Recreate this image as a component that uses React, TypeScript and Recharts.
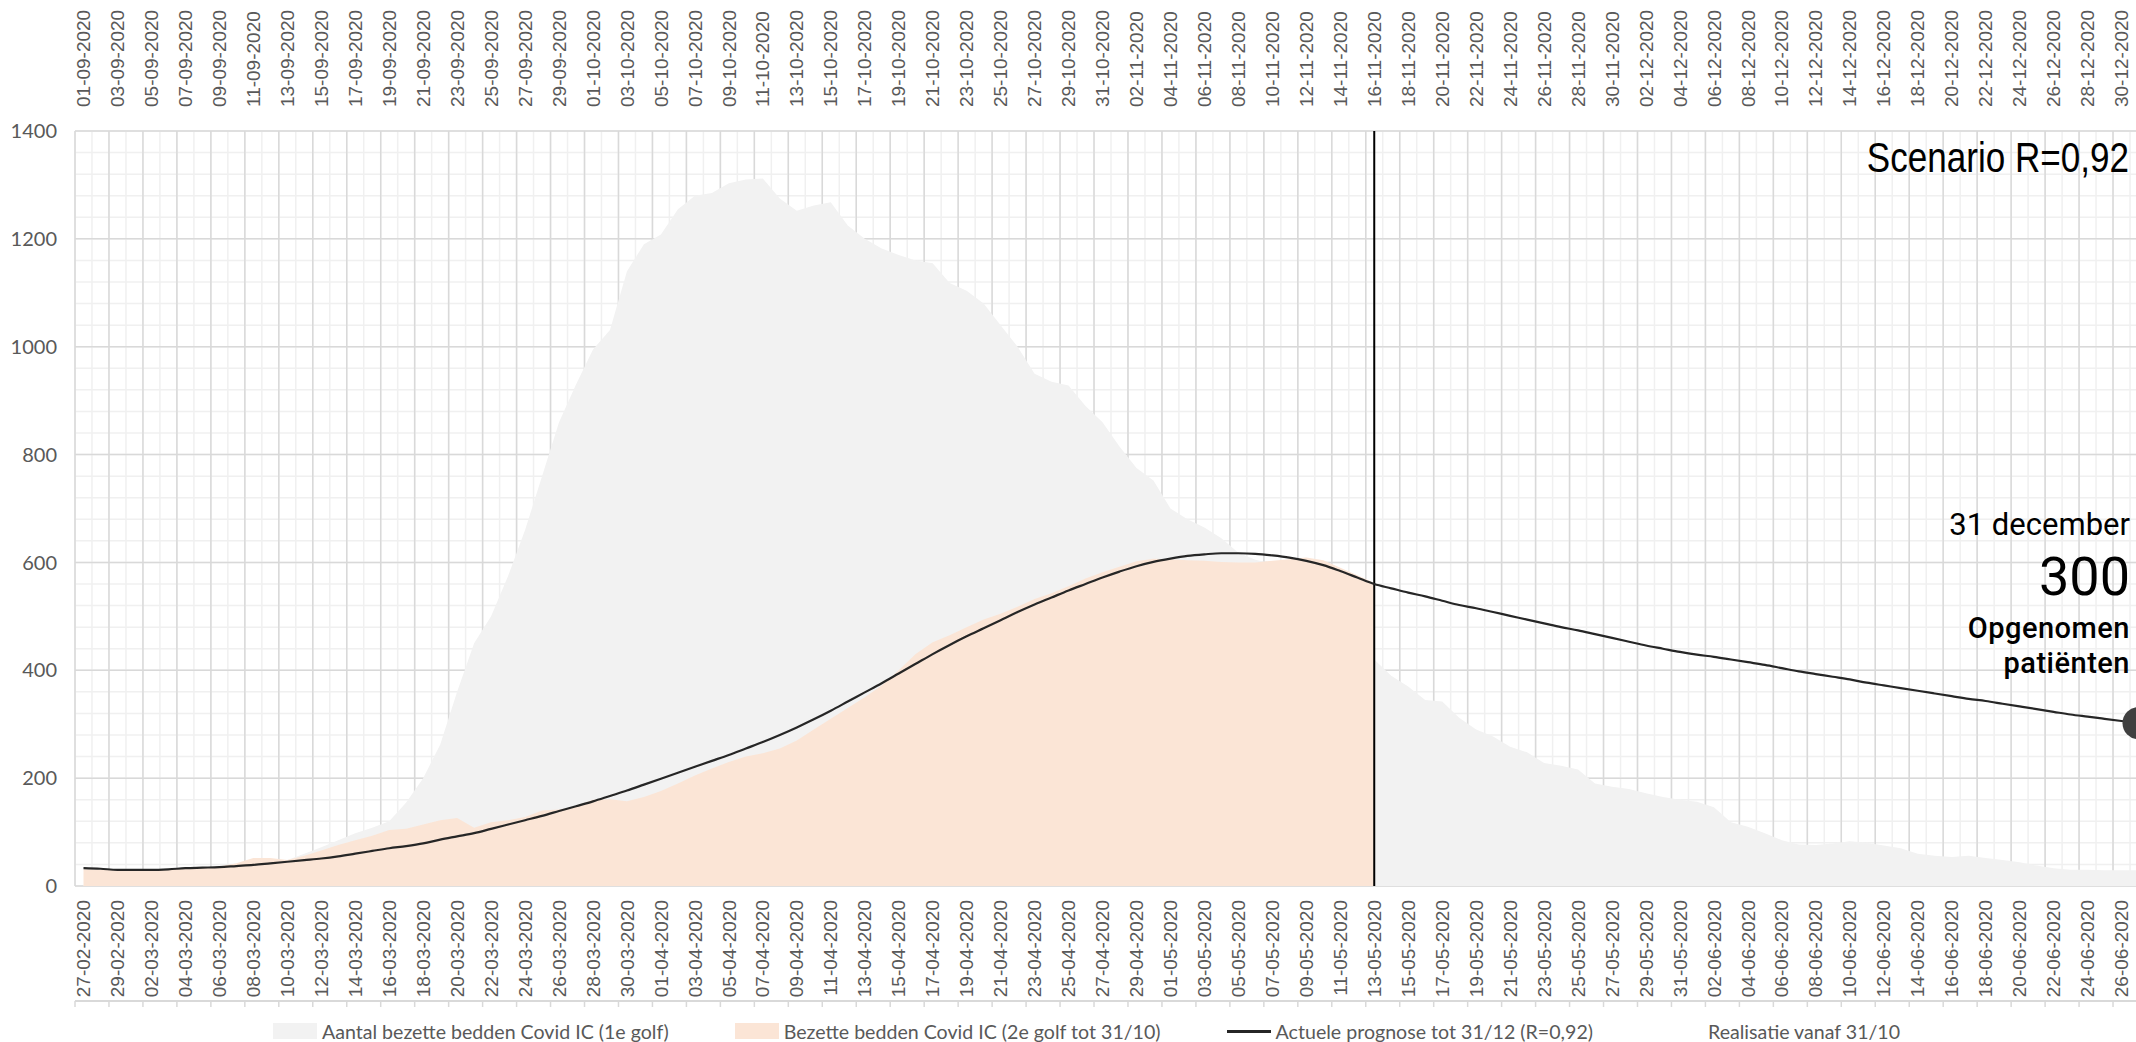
import React from 'react';
import {
  ComposedChart,
  Area,
  Line,
  XAxis,
  YAxis,
  CartesianGrid,
  ReferenceLine,
  Legend,
} from 'recharts';

// labels every 2 days, 1e golf (bottom) and 2e golf (top)
const bottomDates = [
  '27-02-2020', '29-02-2020', '02-03-2020', '04-03-2020', '06-03-2020', '08-03-2020', '10-03-2020',
  '12-03-2020', '14-03-2020', '16-03-2020', '18-03-2020', '20-03-2020', '22-03-2020', '24-03-2020',
  '26-03-2020', '28-03-2020', '30-03-2020', '01-04-2020', '03-04-2020', '05-04-2020', '07-04-2020',
  '09-04-2020', '11-04-2020', '13-04-2020', '15-04-2020', '17-04-2020', '19-04-2020', '21-04-2020',
  '23-04-2020', '25-04-2020', '27-04-2020', '29-04-2020', '01-05-2020', '03-05-2020', '05-05-2020',
  '07-05-2020', '09-05-2020', '11-05-2020', '13-05-2020', '15-05-2020', '17-05-2020', '19-05-2020',
  '21-05-2020', '23-05-2020', '25-05-2020', '27-05-2020', '29-05-2020', '31-05-2020', '02-06-2020',
  '04-06-2020', '06-06-2020', '08-06-2020', '10-06-2020', '12-06-2020', '14-06-2020', '16-06-2020',
  '18-06-2020', '20-06-2020', '22-06-2020', '24-06-2020', '26-06-2020',
];

const topDates = [
  '01-09-2020', '03-09-2020', '05-09-2020', '07-09-2020', '09-09-2020', '11-09-2020', '13-09-2020',
  '15-09-2020', '17-09-2020', '19-09-2020', '21-09-2020', '23-09-2020', '25-09-2020', '27-09-2020',
  '29-09-2020', '01-10-2020', '03-10-2020', '05-10-2020', '07-10-2020', '09-10-2020', '11-10-2020',
  '13-10-2020', '15-10-2020', '17-10-2020', '19-10-2020', '21-10-2020', '23-10-2020', '25-10-2020',
  '27-10-2020', '29-10-2020', '31-10-2020', '02-11-2020', '04-11-2020', '06-11-2020', '08-11-2020',
  '10-11-2020', '12-11-2020', '14-11-2020', '16-11-2020', '18-11-2020', '20-11-2020', '22-11-2020',
  '24-11-2020', '26-11-2020', '28-11-2020', '30-11-2020', '02-12-2020', '04-12-2020', '06-12-2020',
  '08-12-2020', '10-12-2020', '12-12-2020', '14-12-2020', '16-12-2020', '18-12-2020', '20-12-2020',
  '22-12-2020', '24-12-2020', '26-12-2020', '28-12-2020', '30-12-2020',
];

// daily values (one per day)
const golf1 = [
  2, 3, 4, 5, 6, 8, 10, 14, 18, 24, 30, 38, 48, 60,
  72, 85, 98, 108, 120, 155, 200,
  262, 360, 450, 500, 575, 660, 760, 860, 930, 995,
  1031, 1140, 1190, 1208, 1255, 1280, 1285, 1303, 1310, 1312,
  1275, 1252, 1262, 1268, 1225, 1200, 1182, 1170, 1160, 1155,
  1118, 1104, 1080, 1040, 1000, 950, 935, 928, 890, 860,
  815, 775, 752, 700, 680, 665, 645, 618, 605, 598,
  580, 560, 530, 490, 455, 420, 390, 370, 345, 342,
  312, 290, 277, 258, 248, 228, 223, 216, 190, 184,
  180, 172, 165, 160, 156, 146, 118, 110, 98, 85,
  77, 76, 79, 83, 80, 75, 70, 60, 56, 54,
  56, 52, 48, 44, 38, 33, 30, 30, 29, 29, 29,
];

const golf2 = [
  31, 30, 29, 29, 30, 31, 32, 34, 36, 42,
  52, 52, 48, 56, 66, 76, 85, 93, 104, 106,
  114, 122, 126, 108, 118, 122, 128, 140, 142, 148,
  160, 161, 157, 165, 176, 190, 205, 218, 230, 240,
  246, 255, 270, 290, 310, 330, 350, 372, 400, 430,
  452, 465, 480, 494, 505, 518, 532, 543, 556, 570,
  582, 592, 602, 607, 606, 604, 603, 601, 600, 600,
  603, 606, 609, 604, 590, 576, 562,
];

const prognose = [
  33, 32, 30, 30, 30, 31, 33, 34, 35, 37,
  39, 42, 45, 48, 51, 55, 60, 65, 70, 74,
  79, 86, 92, 98, 106, 114, 122, 130, 139, 148,
  157, 167, 177, 188, 199, 210, 221, 232, 243, 255,
  267, 280, 294, 309, 325, 342, 359, 376, 394, 412,
  430, 447, 463, 478, 493, 508, 522, 535, 548, 560,
  572, 583, 593, 601, 607, 612, 615, 617, 617, 616,
  613, 609, 603, 595, 584, 572, 560, 552, 544, 537,
  529, 521, 515, 508, 501, 494, 487, 480, 474, 467,
  460, 453, 446, 440, 434, 429, 425, 420, 415, 410,
  404, 398, 393, 388, 383, 377, 372, 367, 362, 357,
  352, 347, 343, 338, 333, 328, 323, 318, 314, 310, 306, 302,
];

const yTicks = [0, 200, 400, 600, 800, 1000, 1200, 1400];
const vandaag = 76; // 13-05 / 16-11

const legendItems = [
  { label: 'Aantal bezette bedden Covid IC (1e golf)', kind: 'area', color: '#f2f2f2' },
  { label: 'Bezette bedden Covid IC (2e golf tot 31/10)', kind: 'area', color: '#fbe5d6' },
  { label: 'Actuele prognose tot 31/12 (R=0,92)', kind: 'line', color: '#262626' },
  { label: 'Realisatie vanaf 31/10', kind: 'none', color: 'transparent' },
];

const data = prognose.map((p, i) => ({
  i,
  golf1: golf1[i],
  golf2: i < golf2.length ? golf2[i] : null,
  prognose: p,
}));

const last = prognose.length - 1;
const xDomain = [-0.5, last + 0.5];
const labelTicks = bottomDates.map((_, k) => k * 2);
// grid sits between the days, as in the Excel original
const minorTicks = Array.from({ length: prognose.length + 1 }, (_, k) => k - 0.5);
const majorTicks = minorTicks.filter((_, k) => k % 2 === 0);
const yMinorTicks = Array.from({ length: 36 }, (_, k) => k * 40);

const TEXT = '#595959';
const DATE_FONT = '"Liberation Sans", Arial, sans-serif';

const BottomTick = (props: any) => {
  const { x, y, payload } = props;
  return (
    <text
      x={x}
      y={y}
      transform={`rotate(-90 ${x} ${y})`}
      textAnchor="end"
      dy="0.35em"
      fill={TEXT}
      fontSize={19}
      fontFamily={DATE_FONT}
    >
      {bottomDates[payload.value / 2]}
    </text>
  );
};

const TopTick = (props: any) => {
  const { x, y, payload } = props;
  return (
    <text
      x={x}
      y={y}
      transform={`rotate(-90 ${x} ${y})`}
      textAnchor="start"
      dy="0.35em"
      fill={TEXT}
      fontSize={19}
      fontFamily={DATE_FONT}
    >
      {topDates[payload.value / 2]}
    </text>
  );
};

const EndDot = (props: any) => {
  const { cx, cy, index } = props;
  if (index !== last) return <g key={`d${index}`} />;
  return <circle key="end" cx={cx} cy={cy} r={16} fill="#404040" />;
};

const renderLegend = () => (
  <div
    style={{
      display: 'flex',
      justifyContent: 'center',
      alignItems: 'center',
      height: 40,
      paddingTop: 18,
      paddingLeft: 26,
      boxSizing: 'border-box',
      fontFamily: 'Lato, sans-serif',
      fontSize: 19.6,
      color: TEXT,
      whiteSpace: 'nowrap',
    }}
  >
    {legendItems.map((it, k) => (
      <div
        key={it.label}
        style={{ display: 'flex', alignItems: 'center', marginRight: k < legendItems.length - 1 ? 66 : 0 }}
      >
        <span
          style={{
            display: 'inline-block',
            width: 44,
            height: it.kind === 'line' ? 3 : 16,
            background: it.color,
            marginRight: 5,
          }}
        />
        <span>{it.label}</span>
      </div>
    ))}
  </div>
);

export default function App() {
  return (
    <div
      style={{
        position: 'absolute',
        left: 0,
        top: 0,
        width: 2136,
        height: 1042,
        overflow: 'hidden',
        background: '#fff',
      }}
    >
      <ComposedChart
        width={2157}
        height={1042}
        data={data}
        margin={{ top: 0, right: 10, bottom: 0, left: 0 }}
      >
        <CartesianGrid
          verticalValues={minorTicks}
          horizontalValues={yMinorTicks}
          stroke="#f0f0f0"
          strokeWidth={1.5}
        />
        <CartesianGrid
          verticalValues={majorTicks}
          horizontalValues={yTicks}
          stroke="#d9d9d9"
          strokeWidth={1.5}
        />

        <XAxis
          xAxisId="marks"
          type="number"
          dataKey="i"
          domain={xDomain}
          ticks={majorTicks}
          interval={0}
          height={1}
          tickSize={6}
          tickFormatter={() => ''}
          axisLine={{ stroke: '#d9d9d9', strokeWidth: 2 }}
          tickLine={{ stroke: '#d9d9d9', strokeWidth: 1.5 }}
        />
        <XAxis
          type="number"
          dataKey="i"
          domain={xDomain}
          ticks={labelTicks}
          interval={0}
          height={115}
          axisLine={false}
          tickLine={false}
          tickMargin={8}
          tick={<BottomTick />}
        />
        <XAxis
          xAxisId="top"
          orientation="top"
          type="number"
          dataKey="i"
          domain={xDomain}
          ticks={labelTicks}
          interval={0}
          height={131}
          axisLine={false}
          tickLine={false}
          tickMargin={18}
          tick={<TopTick />}
        />
        <YAxis
          type="number"
          domain={[0, 1400]}
          ticks={yTicks}
          interval={0}
          width={75}
          axisLine={false}
          tickLine={false}
          tickMargin={12}
          tick={{ fill: TEXT, fontSize: 20, fontFamily: 'Lato, sans-serif' }}
        />

        <Area
          dataKey="golf1"
          type="linear"
          fill="#f2f2f2"
          fillOpacity={1}
          stroke="none"
          isAnimationActive={false}
        />
        <Area
          dataKey="golf2"
          type="linear"
          fill="#fbe5d6"
          fillOpacity={1}
          stroke="none"
          isAnimationActive={false}
        />
        <ReferenceLine x={vandaag} stroke="#000" strokeWidth={2} />
        <Line
          dataKey="prognose"
          type="monotone"
          stroke="#262626"
          strokeWidth={2.2}
          dot={<EndDot />}
          activeDot={false}
          isAnimationActive={false}
        />
        <Legend verticalAlign="bottom" content={renderLegend} />
      </ComposedChart>

      <svg
        width={2136}
        height={1042}
        style={{ position: 'absolute', left: 0, top: 0, pointerEvents: 'none' }}
      >
        <text
          transform="translate(2129 172) scale(0.835 1)"
          textAnchor="end"
          fontSize={42}
          fontFamily='"Liberation Sans", Arial, sans-serif'
          fill="#000"
        >
          Scenario R=0,92
        </text>
        <text x={2130} y={535} textAnchor="end" fontSize={31} fontFamily="Roboto, sans-serif" fill="#000">
          31 december
        </text>
        <text x={2130} y={595} textAnchor="end" fontSize={54} fontFamily="Roboto, sans-serif" fill="#000">
          300
        </text>
        <text x={2130} y={638} textAnchor="end" fontSize={29} fontWeight={500} letterSpacing={0.5} fontFamily="Roboto, sans-serif" fill="#000">
          Opgenomen
        </text>
        <text x={2130} y={673} textAnchor="end" fontSize={29} fontWeight={500} letterSpacing={0.5} fontFamily="Roboto, sans-serif" fill="#000">
          patiënten
        </text>
      </svg>
    </div>
  );
}
